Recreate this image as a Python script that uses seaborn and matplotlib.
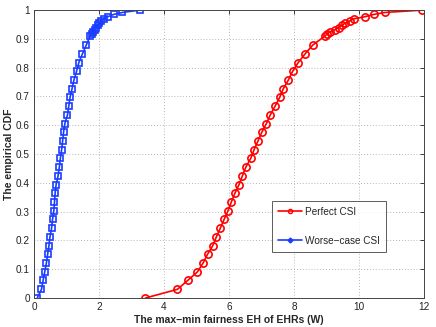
import numpy as np
import pandas as pd
import seaborn as sns
import matplotlib.pyplot as plt
from matplotlib.lines import Line2D

# CDF levels
cdf_levels = [0.0, 0.030, 0.061, 0.091, 0.121, 0.152, 0.182, 0.212, 0.242, 0.273,
              0.303, 0.333, 0.364, 0.394, 0.424, 0.455, 0.485, 0.515, 0.545, 0.576,
              0.606, 0.636, 0.667, 0.697, 0.727, 0.758, 0.788, 0.818, 0.848, 0.879,
              0.909, 0.917, 0.924, 0.932, 0.939, 0.947, 0.955, 0.962, 0.970, 0.977,
              0.985, 0.992, 1.0]

perfect_x = [3.43, 4.41, 4.73, 5.03, 5.20, 5.34, 5.50, 5.61, 5.73, 5.85,
             5.97, 6.07, 6.18, 6.31, 6.41, 6.52, 6.67, 6.77, 6.89, 7.01,
             7.15, 7.27, 7.42, 7.56, 7.67, 7.83, 7.96, 8.13, 8.34, 8.58,
             8.94, 9.02, 9.10, 9.26, 9.37, 9.48, 9.57, 9.71, 9.84, 10.18,
             10.45, 10.80, 11.94]

worse_x = [0.10, 0.23, 0.28, 0.33, 0.38, 0.42, 0.46, 0.49, 0.54, 0.57,
           0.61, 0.63, 0.65, 0.68, 0.74, 0.78, 0.81, 0.85, 0.88, 0.91,
           0.95, 1.03, 1.07, 1.11, 1.17, 1.23, 1.31, 1.38, 1.49, 1.61,
           1.72, 1.78, 1.83, 1.87, 1.91, 1.96, 2.01, 2.07, 2.14, 2.27,
           2.45, 2.72, 3.25]

x_ticks = [0, 2, 4, 6, 8, 10, 12]
y_ticks = [0, 0.1, 0.2, 0.3, 0.4, 0.5, 0.6, 0.7, 0.8, 0.9, 1]
y_tick_labels = ["0", "0.1", "0.2", "0.3", "0.4", "0.5", "0.6", "0.7", "0.8", "0.9", "1"]

red = "#ff0000"
blue = "#1a3cff"

sns.set_style("white")
plt.rcParams["font.family"] = ["Liberation Sans", "DejaVu Sans"]
plt.rcParams["axes.unicode_minus"] = True

fig = plt.figure(figsize=(4.36, 3.27), dpi=100)
ax = fig.add_axes([0.078, 0.0887, 0.8945, 0.8803])

sns.lineplot(x=perfect_x, y=cdf_levels, ax=ax, color=red, estimator=None, sort=False,
             marker="o", markersize=5.2, markerfacecolor="none", markeredgecolor=red,
             markeredgewidth=1.2, linewidth=1.2)
sns.lineplot(x=worse_x, y=cdf_levels, ax=ax, color=blue, estimator=None, sort=False,
             marker="s", markersize=4.6, markerfacecolor="none", markeredgecolor=blue,
             markeredgewidth=1.2, linewidth=1.2)

ax.set_xlim(0, 12)
ax.set_ylim(0, 1)
ax.set_xticks(x_ticks)
ax.set_yticks(y_ticks)
ax.set_yticklabels(y_tick_labels)
ax.tick_params(direction="in", length=3, width=0.6, labelsize=7.2, top=True, right=True,
               pad=3, colors="#222222")
ax.grid(True, linestyle=(0, (1, 2.5)), color="#a0a0a0", linewidth=0.6)
for s in ax.spines.values():
    s.set_color("#444444")
    s.set_linewidth(0.7)

ax.set_xlabel("The max\u2212min fairness EH of EHRs (W)", fontsize=7.5, fontweight="bold",
              labelpad=2)
ax.set_ylabel("The empirical CDF", fontsize=7.5, fontweight="bold", labelpad=1.5)

handles = [Line2D([0], [0], color=red, lw=1.2, marker="o", markersize=3,
                  markerfacecolor="none", markeredgecolor=red),
           Line2D([0], [0], color=blue, lw=1.2, marker="D", markersize=2.5,
                  markerfacecolor=blue, markeredgecolor=blue)]
leg = ax.legend(handles, ["Perfect CSI", "Worse\u2212case CSI"], loc="upper left",
                bbox_to_anchor=(0.61, 0.338), fontsize=7.2, frameon=True, fancybox=False,
                handlelength=2.4, labelspacing=1.9, borderpad=0.6, handletextpad=0.3,
                borderaxespad=0)
leg.get_frame().set_edgecolor("#333333")
leg.get_frame().set_linewidth(0.7)

fig.savefig("out.png", dpi=100)
